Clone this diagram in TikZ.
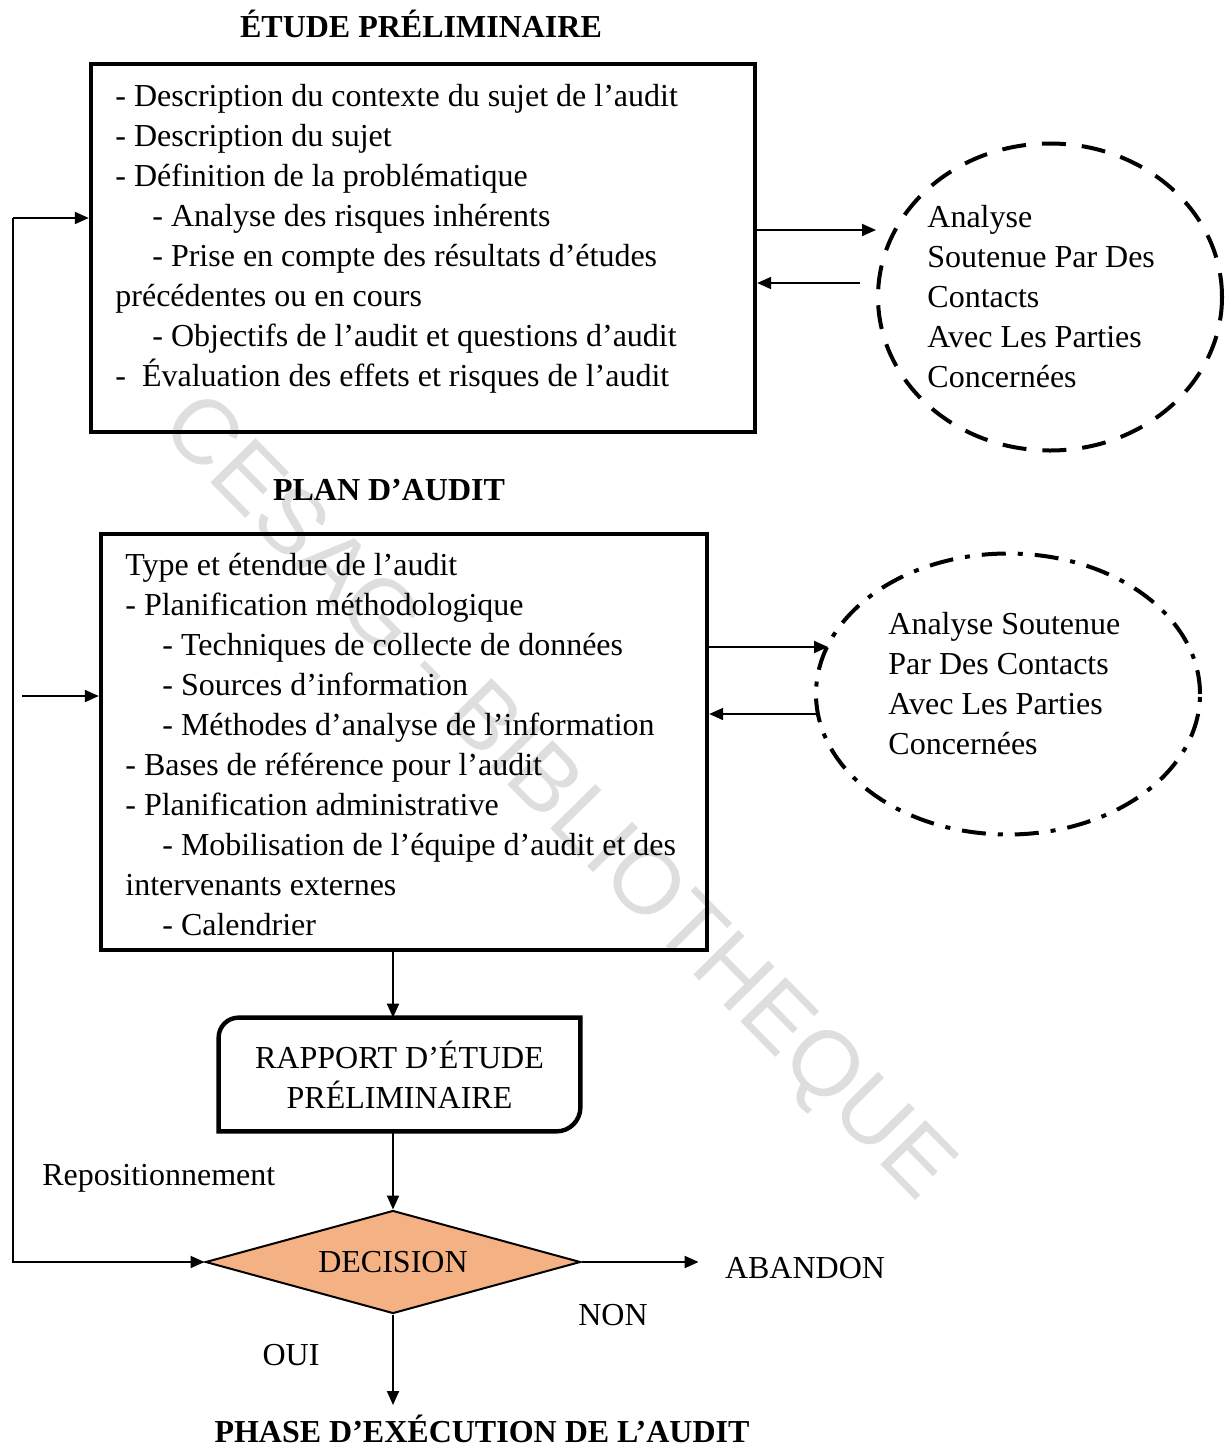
\documentclass[tikz,border=0pt]{standalone}
\usepackage{fontspec}
\setmainfont{Liberation Serif}
\newfontfamily\wmfont{Liberation Sans}
\usetikzlibrary{arrows.meta,shapes.geometric,calc}
\definecolor{decisionfill}{RGB}{244,177,131}
\newcommand{\sublevel}{\hspace*{18.5pt}}

\begin{document}
\begin{tikzpicture}[x=0.5pt,y=-0.5pt,
  every node/.style={font=\fontsize{16}{20}\selectfont,inner sep=0pt},
  frame/.style={rectangle,draw,line width=2.2pt},
  body/.style={align=left,anchor=north west},
  heading/.style={font=\fontsize{16}{20}\selectfont\bfseries},
  contact/.style={ellipse,draw,line width=2pt},
  link/.style={line width=1pt,-{Triangle[length=7pt,width=6pt]}}]

  \useasboundingbox (0,0) rectangle (1229,1447);

  % watermark
  \node[rotate=-45.5,text=black!13,font=\wmfont\fontsize{46}{50}\selectfont] (watermark) at (555,800)
    {CESAG - BIBLIOTHEQUE};

  % etude preliminaire
  \node[heading] (etude title) at (421,24) {ÉTUDE PRÉLIMINAIRE};
  \node[frame,minimum width=332pt,minimum height=184pt] (box1) at (423,248) {};
  \node[body] (box1 text) at (115,84) {- Description du contexte du sujet de l’audit\\
    - Description du sujet\\
    - Définition de la problématique\\
    \sublevel - Analyse des risques inhérents\\
    \sublevel - Prise en compte des résultats d’études\\
    précédentes ou en cours\\
    \sublevel - Objectifs de l’audit et questions d’audit\\
    -\ \ Évaluation des effets et risques de l’audit};
  \node[contact,dash pattern=on 12pt off 8pt,minimum width=172pt,minimum height=153.5pt] (ell1) at (1050,297) {};
  \node[align=left,anchor=west] (ell1 text) at (927,297)
    {Analyse\\Soutenue Par Des\\Contacts\\Avec Les Parties\\Concernées};

  % plan d'audit
  \node[heading] (plan title) at (389,490) {PLAN D’AUDIT};
  \node[frame,minimum width=303pt,minimum height=208pt] (box2) at (404,742) {};
  \node[body] (box2 text) at (125,553) {Type et étendue de l’audit\\
    - Planification méthodologique\\
    \sublevel - Techniques de collecte de données\\
    \sublevel - Sources d’information\\
    \sublevel - Méthodes d’analyse de l’information\\
    - Bases de référence pour l’audit\\
    - Planification administrative\\
    \sublevel - Mobilisation de l’équipe d’audit et des\\
    intervenants externes\\
    \sublevel - Calendrier};
  \node[contact,dash pattern=on 12pt off 6pt on 2.5pt off 6pt,minimum width=192pt,minimum height=140.5pt] (ell2) at (1008,694) {};
  \node[align=left,anchor=west] (ell2 text) at (888,684)
    {Analyse Soutenue\\Par Des Contacts\\Avec Les Parties\\Concernées};

  % rapport + decision
  \node[minimum width=180.5pt,minimum height=56.5pt,align=center] (rapport) at (399.5,1074.5)
    {RAPPORT D’ÉTUDE\\PRÉLIMINAIRE};
  \draw[line width=2.2pt] (rapport.south west) -- ([yshift=-10pt]rapport.north west)
    arc[start angle=180,end angle=90,radius=10pt] -- (rapport.north east)
    -- ([yshift=12pt]rapport.south east) arc[start angle=0,end angle=-90,radius=12pt] -- cycle;
  \node[diamond,aspect=3.64,draw,line width=1pt,fill=decisionfill,minimum width=187.5pt,minimum height=51.5pt] (decision) at (393,1262) {DECISION};

  \node (abandon) at (805,1268) {ABANDON};
  \node (non) at (613,1315) {NON};
  \node (oui) at (291,1355) {OUI};
  \node[anchor=west] (repos) at (42,1178) {Repositionnement};
  \node[heading] (phase) at (482,1429) {PHASE D’EXÉCUTION DE L’AUDIT};

  \coordinate (loop top) at (13,218);
  \coordinate (loop bottom) at (13,1262);
  \coordinate (plan entry) at (22,696);
  \coordinate (exec end) at (393,1405);

  % connectors
  \draw[link] (box1.east |- 0,230) -- (ell1.west |- 0,230);
  \draw[link] ($(ell1.west |- 0,283)+(-16,0)$) -- (box1.east |- 0,283);
  \draw[link] (box2.east |- 0,647) -- ($(ell2.west |- 0,647)+(14,0)$);
  \draw[link] ($(ell2.west |- 0,714)+(2,0)$) -- (box2.east |- 0,714);
  \draw[link] (loop top) -- (box1.west |- loop top);
  \draw[link] (loop top) -- (loop bottom) -- (decision.west);
  \draw[link] (plan entry) -- (box2.west |- plan entry);
  \draw[link] (decision |- box2.south) -- (decision |- rapport.north);
  \draw[link] (decision |- rapport.south) -- (decision.north);
  \draw[link] (decision.east) -- ($(abandon.west |- decision.east)+(-26,0)$);
  \draw[link] (decision.south) -- (exec end);
\end{tikzpicture}
\end{document}
